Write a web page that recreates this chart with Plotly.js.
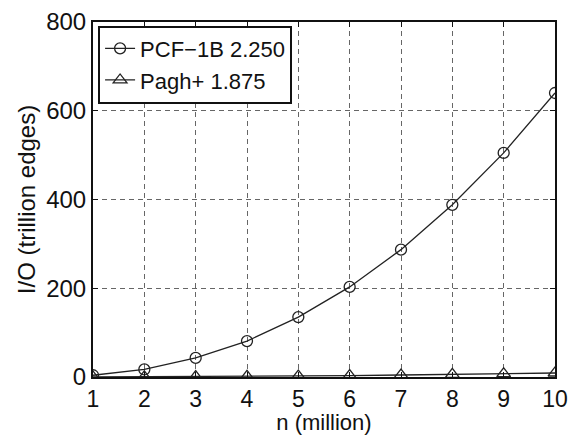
<!DOCTYPE html>
<html>
<head>
<meta charset="utf-8">
<script src="https://cdn.plot.ly/plotly-3.0.1.min.js"></script>
<style>html,body{margin:0;padding:0;background:#fff;}#chart{width:568px;height:435px;}</style>
</head>
<body>
<div id="chart"></div>
<script>
const nMillion = [1, 2, 3, 4, 5, 6, 7, 8, 9, 10];
const pcf1b = [4, 17, 43, 81, 135, 203, 287, 388, 505, 640];
const pagh = [0.1, 0.4, 0.9, 1.5, 2.3, 3.3, 4.5, 5.8, 7.3, 9];
const seriesNames = ["PCF\u22121B 2.250", "Pagh+ 1.875"];
const xTicks = [1, 2, 3, 4, 5, 6, 7, 8, 9, 10];
const yTicks = [0, 200, 400, 600, 800];

const fam = "Liberation Sans, Arial, sans-serif";
const xTickFont = {family: fam, size: 23, color: "#111"};
const yTickFont = {family: fam, size: 24, color: "#111"};
const xTitleFont = {family: fam, size: 22, color: "#111"};
const yTitleFont = {family: fam, size: 24, color: "#111"};
const legendFont = {family: fam, size: 22, color: "#111"};

const traces = [
  {x: nMillion, y: pcf1b, name: seriesNames[0], mode: "lines+markers",
   line: {color: "#222", width: 1.3},
   marker: {symbol: "circle-open", size: 11, color: "#222", line: {width: 1.3}}},
  {x: nMillion, y: pagh, name: seriesNames[1], mode: "lines+markers",
   line: {color: "#222", width: 1.3},
   marker: {symbol: "triangle-up-open", size: 12, color: "#222", line: {width: 1.3}}}
];

const axisCommon = {
  showline: true, linecolor: "#111", linewidth: 2, mirror: "ticks",
  ticks: "inside", ticklen: 5, tickcolor: "#111", tickwidth: 1,
  showgrid: true, gridcolor: "#666", griddash: "5px,4px", gridwidth: 1,
  zeroline: false, ticklabeloverflow: "allow"
};

const layout = {
  width: 568, height: 435,
  margin: {l: 93, r: 13, t: 22, b: 58},
  paper_bgcolor: "#fff", plot_bgcolor: "#fff",
  font: yTickFont,
  showlegend: true,
  legend: {x: 0.011, y: 0.99, xanchor: "left", yanchor: "top",
           bordercolor: "#111", borderwidth: 2, bgcolor: "#fff",
           font: legendFont, itemwidth: 30, tracegroupgap: 0},
  xaxis: Object.assign({}, axisCommon, {
    range: [1, 10], tickvals: xTicks, ticktext: xTicks.map(String),
    tickfont: xTickFont, automargin: false,
    title: {text: "n (million)", font: xTitleFont, standoff: 5}
  }),
  yaxis: Object.assign({}, axisCommon, {
    range: [0, 800], tickvals: yTicks, ticktext: yTicks.map(String),
    tickfont: yTickFont, automargin: false,
    title: {text: "I/O (trillion edges)", font: yTitleFont, standoff: 4}
  })
};

Plotly.newPlot("chart", traces, layout, {displayModeBar: false, staticPlot: true});
</script>
</body>
</html>
